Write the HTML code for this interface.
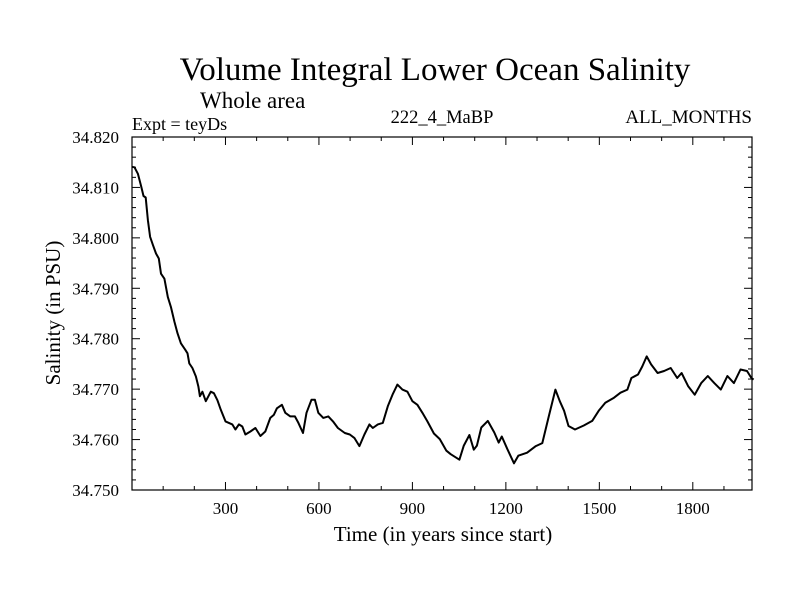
<!DOCTYPE html>
<html><head><meta charset="utf-8"><style>
body{margin:0;background:#fff;width:800px;height:600px;overflow:hidden}
svg text{font-family:"Liberation Serif",serif;fill:#000}
</style></head><body>
<svg width="800" height="600">
<text x="435" y="80" font-size="33" text-anchor="middle">Volume Integral Lower Ocean Salinity</text>
<text x="200" y="108" font-size="23">Whole area</text>
<text x="132" y="130" font-size="18">Expt = teyDs</text>
<text x="442" y="123" font-size="18.5" text-anchor="middle">222_4_MaBP</text>
<text x="752" y="123" font-size="19" text-anchor="end">ALL_MONTHS</text>
<text transform="translate(60,313) rotate(-90)" font-size="21" text-anchor="middle">Salinity (in PSU)</text>
<text x="443" y="541" font-size="21" text-anchor="middle">Time (in years since start)</text>
<g id="axes"></g>
<path id="series" fill="none" stroke="#000" stroke-width="2" stroke-linejoin="round"></path>
<rect x="132" y="137" width="620" height="353" fill="none" stroke="#000" stroke-width="1.2"/>
</svg>
<script>
const years=[0,8,19,30,37,44,51,58,67,77,86,93,104,115,125,136,146,157,171,178,184,194,205,213,218,226,237,253,263,274,285,300,322,332,343,354,364,380,396,412,428,444,455,465,481,492,508,523,534,549,560,576,587,598,614,630,645,661,683,699,714,730,746,762,773,789,805,821,836,852,868,884,900,916,932,948,969,988,1009,1023,1051,1065,1083,1097,1107,1121,1142,1163,1177,1187,1205,1226,1240,1268,1296,1317,1338,1359,1373,1387,1401,1422,1450,1477,1498,1519,1547,1568,1590,1603,1624,1638,1652,1666,1687,1708,1729,1750,1764,1785,1806,1827,1848,1869,1890,1911,1932,1953,1974,1988,1995];
const salinity=[34.8141,34.8140,34.8127,34.8101,34.8083,34.8080,34.8035,34.8002,34.7986,34.7969,34.7959,34.7929,34.7919,34.7883,34.7863,34.7834,34.7811,34.7791,34.7778,34.7771,34.7751,34.7742,34.7725,34.7705,34.7686,34.7695,34.7676,34.7695,34.7692,34.7678,34.7659,34.7636,34.7630,34.7620,34.7630,34.7626,34.7610,34.7616,34.7623,34.7607,34.7616,34.7643,34.7649,34.7662,34.7669,34.7653,34.7646,34.7646,34.7633,34.7613,34.7653,34.7679,34.7679,34.7653,34.7643,34.7646,34.7636,34.7623,34.7613,34.7610,34.7603,34.7587,34.7610,34.7630,34.7623,34.7630,34.7633,34.7666,34.7689,34.7709,34.7699,34.7695,34.7676,34.7669,34.7653,34.7636,34.7612,34.7601,34.7578,34.7571,34.7560,34.7588,34.7609,34.7580,34.7588,34.7624,34.7637,34.7614,34.7594,34.7606,34.7581,34.7553,34.7568,34.7574,34.7587,34.7593,34.7647,34.7699,34.7676,34.7657,34.7627,34.7620,34.7628,34.7637,34.7657,34.7673,34.7683,34.7693,34.7699,34.7722,34.7729,34.7745,34.7765,34.7749,34.7732,34.7736,34.7742,34.7722,34.7732,34.7706,34.7689,34.7712,34.7726,34.7712,34.7699,34.7726,34.7712,34.7739,34.7736,34.7722,34.7719];
const xTickLabels=[300,600,900,1200,1500,1800];
const yTickLabels=["34.750","34.760","34.770","34.780","34.790","34.800","34.810","34.820"];
const L=132,R=752,T=137,B=490,X0=0,X1=1990,Y0=34.750,Y1=34.820;
const sx=v=>L+(v-X0)/(X1-X0)*(R-L);
const sy=v=>B-(v-Y0)/(Y1-Y0)*(B-T);
const NS="http://www.w3.org/2000/svg";
const g=document.getElementById('axes');
function line(x1,y1,x2,y2,name){const l=document.createElementNS(NS,'line');l.setAttribute('x1',x1);l.setAttribute('y1',y1);l.setAttribute('x2',x2);l.setAttribute('y2',y2);l.setAttribute('stroke','#000');l.setAttribute('stroke-width','1');


g.appendChild(l);}
function text(x,y,s,anchor,name){const t=document.createElementNS(NS,'text');t.setAttribute('x',x);t.setAttribute('y',y);t.setAttribute('font-size','17');t.setAttribute('text-anchor',anchor);t.textContent=s;


g.appendChild(t);}
for(let v=100;v<X1;v+=100){const x=sx(v),len=(v%300===0)?8:4;line(x,B,x,B-len,'x-tick');line(x,T,x,T+len,'x-tick-top');}
xTickLabels.forEach(v=>text(sx(v),514,String(v),'middle','x-tick-label'));
for(let i=0;i<=35;i++){const v=Y0+i*0.002,y=sy(v),len=(i%5===0)?8:4;line(L,y,L+len,y,'y-tick');line(R,y,R-len,y,'y-tick-right');}
yTickLabels.forEach(s=>text(119,sy(parseFloat(s))+6,s,'end','y-tick-label'));
let d='';years.forEach((yr,i)=>{d+=(i?'L':'M')+sx(yr).toFixed(1)+','+sy(salinity[i]).toFixed(1);});
document.getElementById('series').setAttribute('d',d);
</script>
</body></html>
